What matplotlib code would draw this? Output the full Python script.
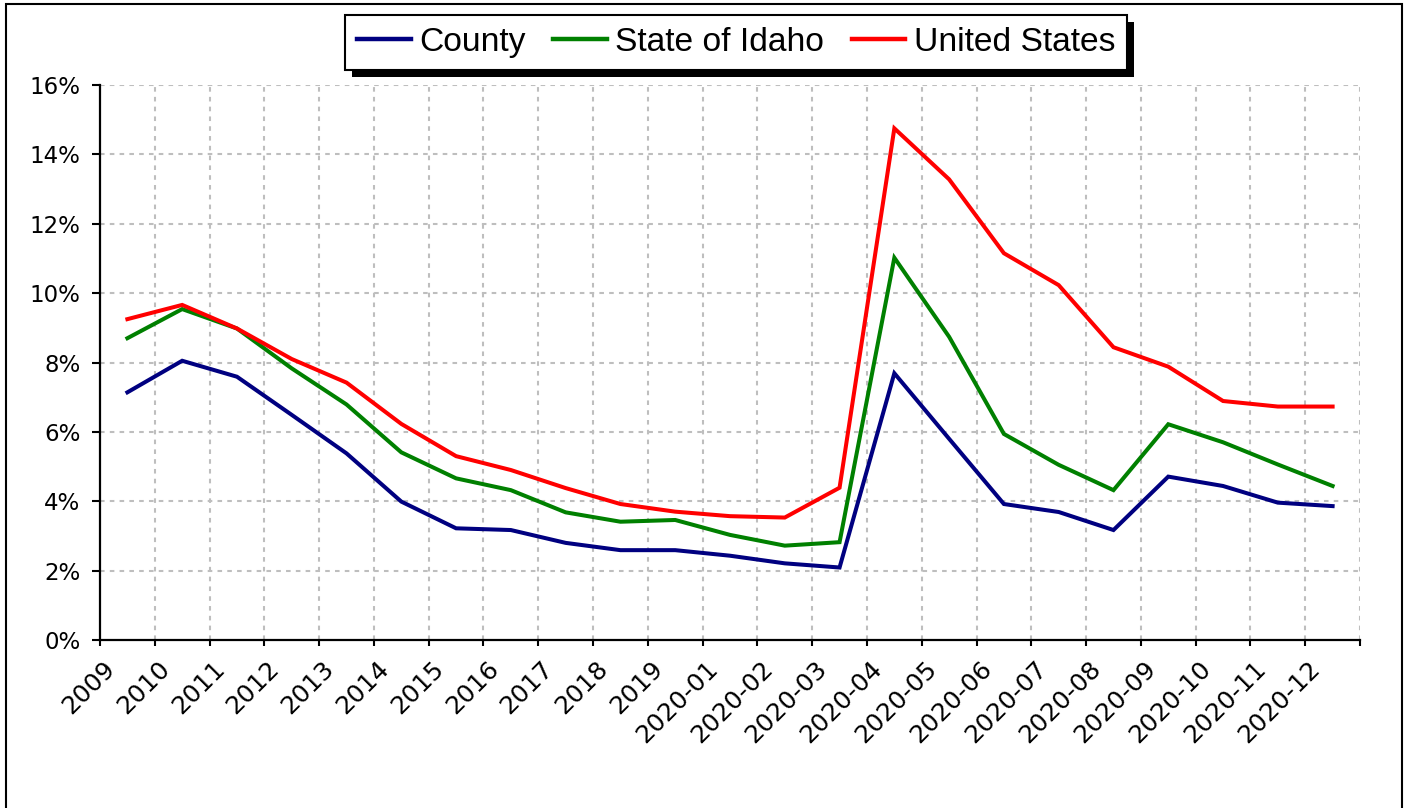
import matplotlib
matplotlib.use("Agg")
import matplotlib.pyplot as plt
from matplotlib.patches import Rectangle
from matplotlib.transforms import ScaledTranslation, blended_transform_factory
import numpy as np

categories = ["2009", "2010", "2011", "2012", "2013", "2014", "2015", "2016",
              "2017", "2018", "2019", "2020-01", "2020-02", "2020-03", "2020-04",
              "2020-05", "2020-06", "2020-07", "2020-08", "2020-09", "2020-10",
              "2020-11", "2020-12"]

county = [7.14, 8.05, 7.59, 6.49, 5.38, 3.99, 3.22, 3.17, 2.80, 2.59, 2.59,
          2.43, 2.21, 2.09, 7.69, 5.80, 3.92, 3.69, 3.17, 4.71, 4.44, 3.96, 3.86]
idaho = [8.70, 9.54, 8.98, 7.83, 6.79, 5.41, 4.66, 4.32, 3.68, 3.41, 3.46,
         3.03, 2.72, 2.82, 11.02, 8.74, 5.94, 5.05, 4.32, 6.22, 5.70, 5.06, 4.44]
usa = [9.25, 9.66, 8.98, 8.10, 7.42, 6.23, 5.30, 4.90, 4.38, 3.92, 3.70,
       3.57, 3.53, 4.39, 14.75, 13.28, 11.15, 10.23, 8.44, 7.88, 6.89, 6.73, 6.73]

series_names = ["County", "State of Idaho", "United States"]
series_colors = ["#000080", "#008000", "#FF0000"]
y_ticks = [0, 2, 4, 6, 8, 10, 12, 14, 16]

W, H = 1409, 808
fig = plt.figure(figsize=(W / 100, H / 100), dpi=100)
fig.patch.set_facecolor("white")

ax = fig.add_axes([100 / W, 1 - 640 / H, (1360 - 100) / W, (640 - 85) / H])

n = len(categories)
centers = np.arange(n) + 0.5
for vals, name, col in zip([county, idaho, usa], series_names, series_colors):
    ax.plot(centers, vals, color=col, lw=2.9, label=name, zorder=3,
            solid_joinstyle="miter")

ax.set_xlim(0, n)
ax.set_ylim(0, 16)
ax.set_yticks(y_ticks)
ax.set_yticklabels([f"{t}%" for t in y_ticks])
ax.set_xticks(np.arange(n + 1))
ax.set_xticklabels([])

for s in ["top", "right"]:
    ax.spines[s].set_visible(False)
for s in ["left", "bottom"]:
    ax.spines[s].set_linewidth(1.6)
    ax.spines[s].set_color("black")

ax.tick_params(axis="y", direction="out", length=6, width=1.5, labelsize=16.5,
               pad=8, colors="black")
ax.tick_params(axis="x", direction="out", length=4.5, width=1.5)
for lab in ax.get_yticklabels():
    lab.set_fontfamily("DejaVu Sans")

# grid
for xv in range(1, n + 1):
    ax.axvline(xv, color="#BEBEBE", lw=1.5, ls=(0, (2.2, 2.5)), zorder=1)
for yv in y_ticks[1:]:
    ax.axhline(yv, color="#BEBEBE", lw=1.5, ls=(0, (2.2, 2.5)), zorder=1)

# x labels (rotated)
trans = blended_transform_factory(ax.transData, ax.transAxes) + \
    ScaledTranslation(-16 / 100, -25 / 100, fig.dpi_scale_trans)
for c, lab in zip(centers, categories):
    ax.text(c, 0, lab, transform=trans, rotation=45, ha="right", va="center",
            rotation_mode="anchor", fontsize=18, family="DejaVu Sans",
            color="black")

# legend
leg = fig.legend(loc="upper left", bbox_to_anchor=(345 / W, 1 - 15 / H),
                 ncol=3, frameon=True, fancybox=False, shadow=False,
                 prop={"family": "Liberation Sans", "size": 24.2},
                 handlelength=1.6, handletextpad=0.25, columnspacing=0.82,
                 borderpad=0.35, borderaxespad=0)
leg.get_frame().set_edgecolor("black")
leg.get_frame().set_linewidth(1.5)
leg.get_frame().set_alpha(1)
leg.set_zorder(10)
for line in leg.get_lines():
    line.set_linewidth(3.2)

fig.canvas.draw()
bb = leg.get_window_extent()
shadow = Rectangle((bb.x0 + 7, bb.y0 - 7), bb.width, bb.height,
                   transform=None, facecolor="black", edgecolor="none",
                   zorder=9)
fig.add_artist(shadow)

# outer border
border = Rectangle((6 / W, -0.05), (1402 - 6) / W, 1 - 4 / H + 0.05,
                   transform=fig.transFigure, fill=False, edgecolor="black",
                   lw=1.5, zorder=20)
fig.add_artist(border)

fig.savefig("out.png", dpi=100)
